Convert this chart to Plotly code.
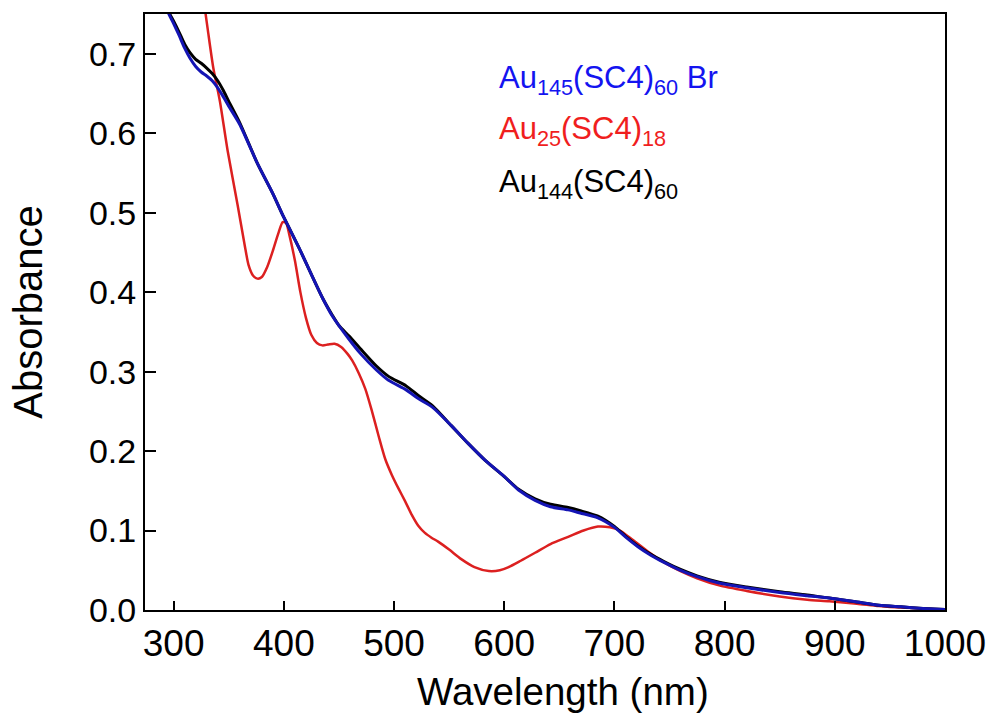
import plotly.graph_objects as go

# Au145(SC4)60 Br  (blue)
wl_blue = [275, 285, 295, 300, 305, 310, 315, 320, 325, 330, 335, 340, 345, 350, 360, 376, 390, 399,
           414, 435, 444, 459, 470, 484, 495, 511, 522, 535, 552, 567, 583, 600, 613, 628, 642, 658,
           669, 685, 700, 710, 721, 733, 745, 760, 775, 795, 820, 850, 875, 895, 920, 940, 960,
           980, 1000]
abs_blue = [0.83, 0.79, 0.752, 0.738, 0.723, 0.707, 0.694, 0.684, 0.677, 0.672, 0.666, 0.657, 0.646,
            0.634, 0.611, 0.562, 0.524, 0.497, 0.455, 0.393, 0.37, 0.341, 0.322, 0.302, 0.289,
            0.277, 0.266, 0.255, 0.232, 0.21, 0.188, 0.168, 0.151, 0.138, 0.13, 0.126, 0.122,
            0.116, 0.104, 0.092, 0.08, 0.069, 0.06, 0.05, 0.042, 0.034, 0.028, 0.022, 0.018,
            0.015, 0.01, 0.006, 0.004, 0.002, 0.0005]

# Au144(SC4)60  (black)
wl_black = [275, 285, 295, 300, 305, 310, 315, 320, 325, 330, 335, 340, 345, 350, 360, 376, 390, 399,
            414, 435, 444, 450, 459, 470, 484, 495, 511, 522, 535, 552, 567, 583, 600, 613, 628,
            642, 658, 669, 685, 700, 710, 721, 733, 745, 760, 775, 795, 820, 850, 875, 895, 920,
            940, 960, 980, 1000]
abs_black = [0.83, 0.79, 0.754, 0.741, 0.727, 0.712, 0.701, 0.693, 0.688, 0.682, 0.675, 0.666, 0.654,
             0.64, 0.613, 0.562, 0.524, 0.497, 0.455, 0.393, 0.371, 0.358, 0.345, 0.328, 0.307,
             0.294, 0.282, 0.27, 0.257, 0.232, 0.21, 0.188, 0.168, 0.152, 0.14, 0.133, 0.129,
             0.125, 0.118, 0.105, 0.093, 0.081, 0.07, 0.061, 0.051, 0.043, 0.035, 0.029, 0.023,
             0.019, 0.015, 0.01, 0.006, 0.004, 0.002, 0.0005]

# Au25(SC4)18  (red)
wl_red = [322, 329, 331, 336, 342, 349, 358, 365, 368, 372, 376, 380, 385, 390, 395, 399, 402, 405,
          410, 415, 420, 425, 430, 435, 440, 446, 452, 458, 462, 468, 474, 480, 486, 492, 498, 504,
          510, 516, 522, 528, 534, 540, 550, 561, 573, 586, 596, 604, 615, 628, 642, 658, 672, 685,
          696, 705, 715, 730, 745, 760, 775, 795, 820, 850, 875, 895, 920, 940, 960, 980, 1000]
abs_red = [0.82, 0.75, 0.73, 0.682, 0.64, 0.578, 0.51, 0.455, 0.434, 0.421, 0.417, 0.419, 0.432,
           0.452, 0.474, 0.488, 0.487, 0.472, 0.44, 0.4, 0.368, 0.346, 0.336, 0.333, 0.334, 0.335,
           0.331, 0.322, 0.314, 0.298, 0.278, 0.25, 0.219, 0.19, 0.17, 0.153, 0.137, 0.12, 0.106,
           0.097, 0.091, 0.086, 0.076, 0.064, 0.054, 0.049, 0.05, 0.054, 0.062, 0.072, 0.083,
           0.092, 0.1, 0.105, 0.104, 0.1, 0.09, 0.074, 0.06, 0.049, 0.04, 0.031, 0.024, 0.017,
           0.013, 0.011, 0.008, 0.005, 0.003, 0.002, 0.0]

labels = ["Au<sub>145</sub>(SC4)<sub>60</sub> Br", "Au<sub>25</sub>(SC4)<sub>18</sub>",
          "Au<sub>144</sub>(SC4)<sub>60</sub>"]
label_colors = ["#1414f0", "#f01e1e", "#000000"]
label_y = [0.667, 0.603, 0.536]

x_ticks = [300, 400, 500, 600, 700, 800, 900, 1000]
y_ticks = [0.0, 0.1, 0.2, 0.3, 0.4, 0.5, 0.6, 0.7]

FONT = "Liberation Sans, Arial, sans-serif"

fig = go.Figure()
fig.add_trace(go.Scatter(x=wl_red, y=abs_red, mode="lines",
                         line=dict(color="#dc2020", width=2.5, shape="spline", smoothing=0.7)))
fig.add_trace(go.Scatter(x=wl_black, y=abs_black, mode="lines",
                         line=dict(color="#000000", width=3, shape="spline", smoothing=0.7)))
fig.add_trace(go.Scatter(x=wl_blue, y=abs_blue, mode="lines",
                         line=dict(color="#1414b4", width=3, shape="spline", smoothing=0.7)))

for t, c, y in zip(labels, label_colors, label_y):
    fig.add_annotation(x=593, y=y, xref="x", yref="y", text=t, showarrow=False,
                       xanchor="left", yanchor="middle",
                       font=dict(family=FONT, size=31, color=c))

# x-axis title placed as annotation (slightly right of centre, as in the reference)
fig.add_annotation(x=0.523, y=-0.136, xref="paper", yref="paper", text="Wavelength (nm)",
                   showarrow=False, xanchor="center", yanchor="middle",
                   font=dict(family=FONT, size=38.5, color="black"))

fig.update_layout(
    width=998, height=725,
    margin=dict(l=145, r=48, t=14, b=115),
    paper_bgcolor="white", plot_bgcolor="white",
    showlegend=False,
    font=dict(family=FONT, color="black"),
)
fig.update_xaxes(range=[274, 1000], tickvals=x_ticks, ticktext=[str(v) for v in x_ticks],
                 ticks="inside", ticklen=9, tickwidth=2, tickcolor="black",
                 showline=True, linecolor="black", linewidth=2, mirror=True,
                 showgrid=False, zeroline=False,
                 tickfont=dict(size=37, family=FONT))
fig.update_yaxes(range=[0, 0.75], tickvals=y_ticks, ticktext=[f"{v:.1f}" for v in y_ticks],
                 ticks="inside", ticklen=11, tickwidth=2, tickcolor="black",
                 showline=True, linecolor="black", linewidth=2, mirror=True,
                 showgrid=False, zeroline=False,
                 tickfont=dict(size=34, family=FONT),
                 title=dict(text="Absorbance", font=dict(size=40, family=FONT), standoff=34))

fig.write_html("out.html")
